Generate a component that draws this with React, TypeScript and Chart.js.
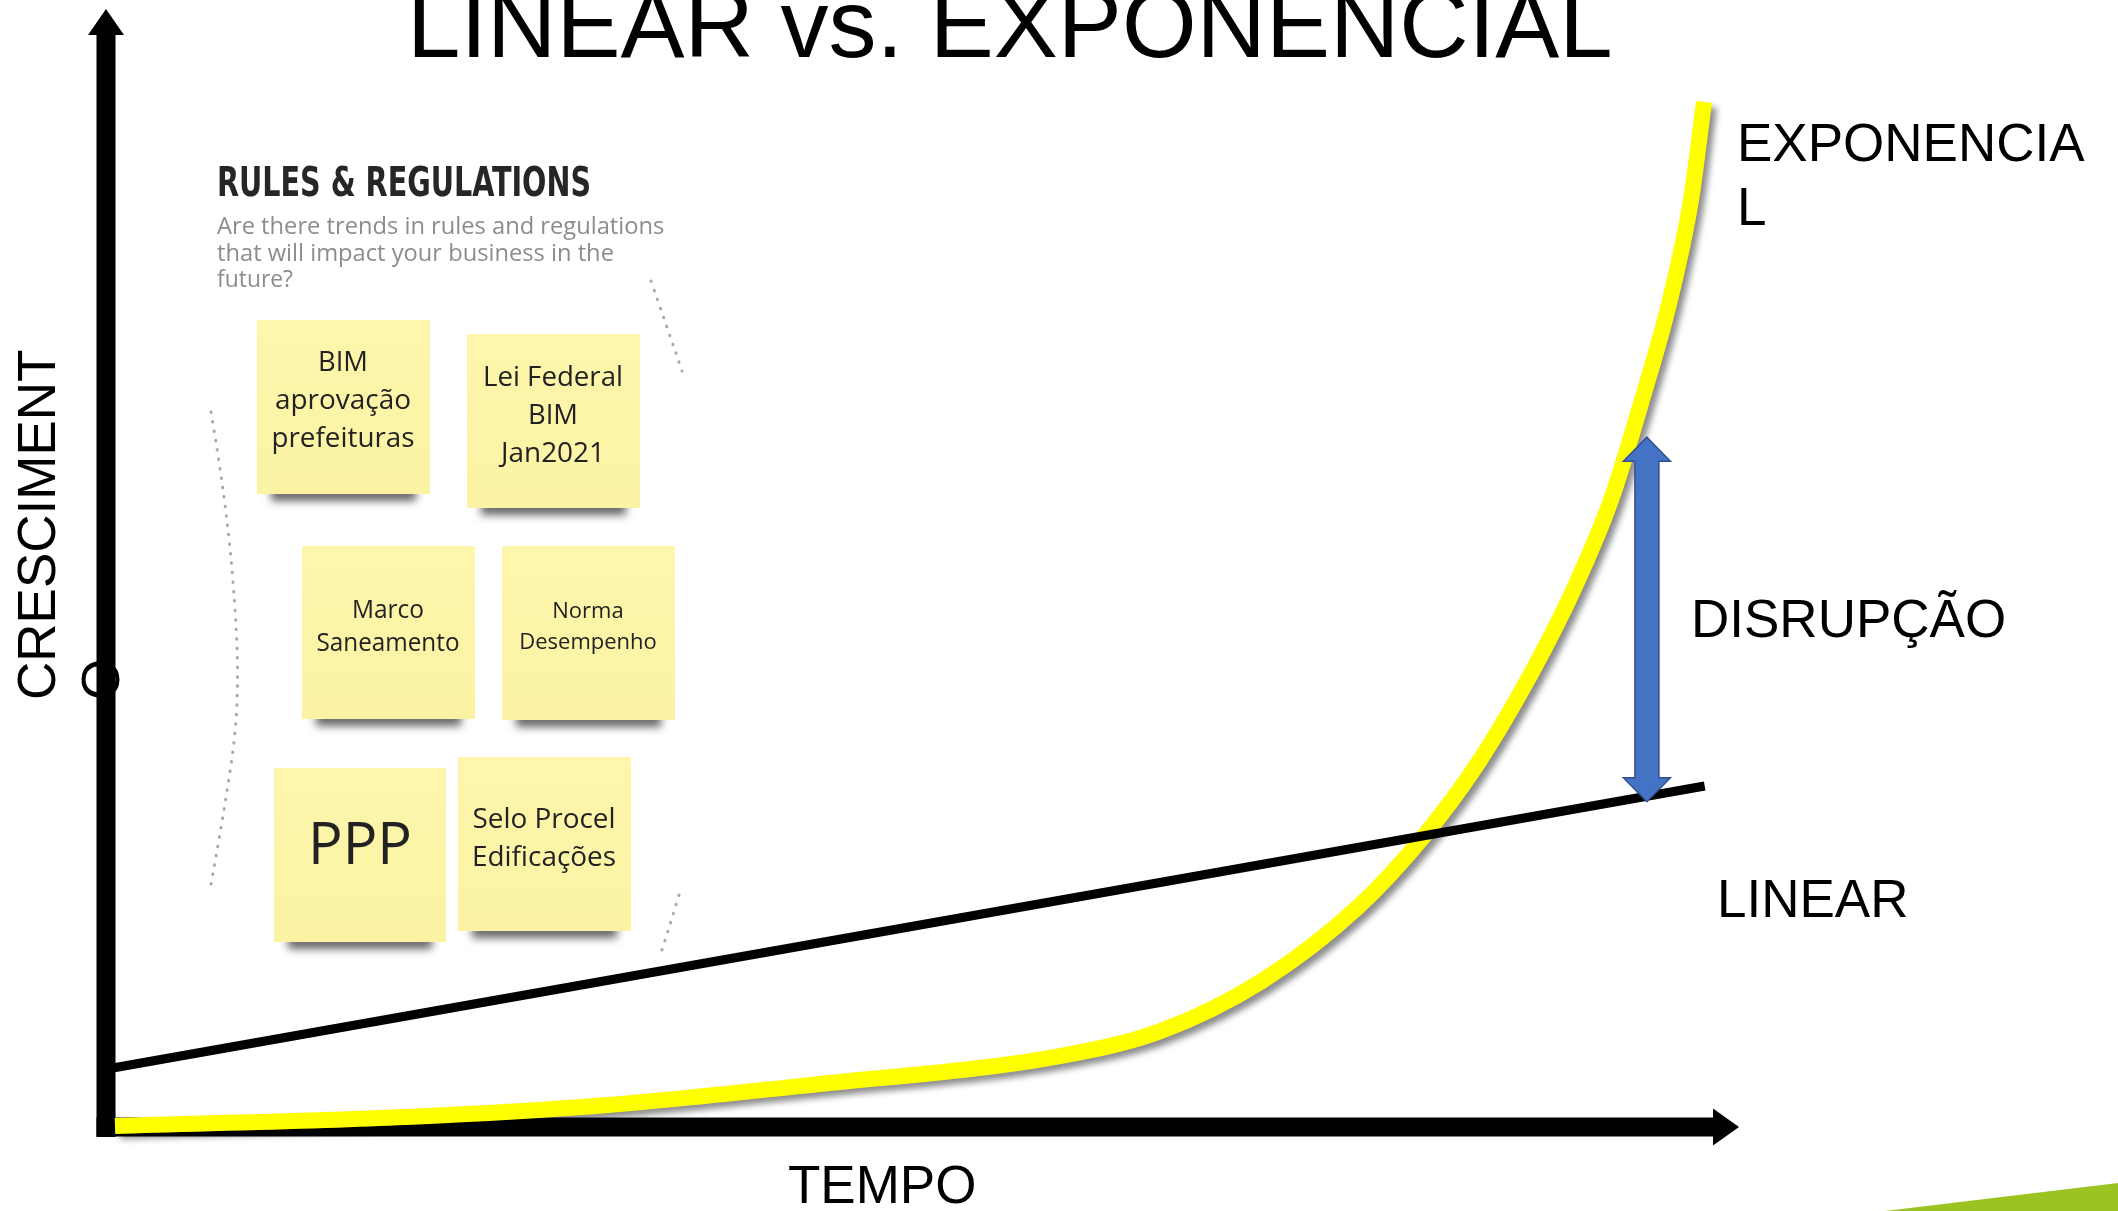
import React, { useEffect, useRef } from "react";
import { Chart, registerables } from "chart.js";

Chart.register(...registerables);

// ---- data (time units 0..100 on x, growth units 0..100 on y) ----
const timeLinear = [0.5, 97.9];
const growthLinear = [5.3, 30.5];

const timeExp = [0.55, 18.37, 30.74, 43.17, 58.42, 64.6, 70.79, 76.61, 80.71, 84.02, 87.32, 89.83, 92.16, 94.06, 95.77, 97.06, 97.86];
const growthExp = [0.09, 0.89, 1.97, 3.76, 6.35, 8.59, 13.06, 19.59, 26.03, 32.56, 40.7, 47.94, 56.08, 65.03, 73.97, 82.92, 91.68];

// disruption arrow: x position and from/to growth values
const disruptionX = [94.36];
const disruptionRange = [29.1, 61.7];

// ---- texts ----
const titleText = "LINEAR vs. EXPONENCIAL";
const xAxisLabel = "TEMPO";
const yAxisLabelLines = ["CRESCIMENT", "O"];
const expLabelLines = ["EXPONENCIA", "L"];
const disruptionLabel = "DISRUPÇÃO";
const linearLabel = "LINEAR";
const boardTitle = "RULES & REGULATIONS";
const boardSubtitle = [
  "Are there trends in rules and regulations",
  "that will impact your business in the",
  "future?",
];
const noteLabels = [
  ["BIM", "aprovação", "prefeituras"],
  ["Lei Federal", "BIM", "Jan2021"],
  ["Marco", "Saneamento"],
  ["Norma", "Desempenho"],
  ["PPP"],
  ["Selo Procel", "Edificações"],
];

// ---- layout (pixels) ----
const W = 2118;
const H = 1211;
const noteBoxes = [
  { x: 257, y: 320, w: 173, h: 174, cx: 343, ly: [363, 401, 439], size: 28, mw: [50, 136, 143] },
  { x: 467, y: 334, w: 173, h: 174, cx: 553, ly: [378, 416, 454], size: 28, mw: [140, 50, 104] },
  { x: 302, y: 546, w: 173, h: 173, cx: 388, ly: [611, 644], size: 25, mw: [72, 143] },
  { x: 502, y: 546, w: 173, h: 174, cx: 588, ly: [612, 643], size: 22, mw: [74, 139] },
  { x: 274, y: 768, w: 172, h: 174, cx: 360, ly: [847], size: 58, mw: [104] },
  { x: 458, y: 757, w: 173, h: 174, cx: 544, ly: [820, 858], size: 28, mw: [143, 144] },
];

const SANS = '"Liberation Sans", Arial, sans-serif';

function dottedPath(ctx: CanvasRenderingContext2D, pts: number[][]) {
  ctx.save();
  ctx.strokeStyle = "#a9a9a9";
  ctx.lineWidth = 3;
  ctx.lineCap = "round";
  ctx.setLineDash([0.5, 9]);
  ctx.beginPath();
  ctx.moveTo(pts[0][0], pts[0][1]);
  for (let i = 1; i < pts.length - 1; i++) {
    const mx = (pts[i][0] + pts[i + 1][0]) / 2;
    const my = (pts[i][1] + pts[i + 1][1]) / 2;
    ctx.quadraticCurveTo(pts[i][0], pts[i][1], mx, my);
  }
  const last = pts[pts.length - 1];
  ctx.lineTo(last[0], last[1]);
  ctx.stroke();
  ctx.restore();
}

const decor = {
  id: "decor",
  beforeDatasetsDraw(chart: any) {
    const ctx: CanvasRenderingContext2D = chart.ctx;
    const a = chart.chartArea;
    ctx.save();

    // green corner wedge
    ctx.fillStyle = "#9bc422";
    ctx.beginPath();
    ctx.moveTo(1885, H);
    ctx.lineTo(W, 1183);
    ctx.lineTo(W, H);
    ctx.closePath();
    ctx.fill();

    // title
    ctx.fillStyle = "#000";
    ctx.textBaseline = "alphabetic";
    ctx.textAlign = "left";
    ctx.font = `96px ${SANS}`;
    ctx.fillText(titleText, 407, 57);

    // board header
    ctx.fillStyle = "#262626";
    ctx.font = 'bold 41px "DejaVu Sans Condensed", "Liberation Sans Narrow", sans-serif';
    ctx.fillText(boardTitle, 217, 196, 374);
    ctx.fillStyle = "#8c8c8c";
    ctx.font = '23.7px "Open Sans", sans-serif';
    const subW = [449, 402, 76];
    boardSubtitle.forEach((s, i) => ctx.fillText(s, 217, 234 + i * 26.5, subW[i]));

    // dotted brackets
    dottedPath(ctx, [[211, 412], [226, 500], [238, 640], [237, 727], [223, 817], [210, 890]]);
    dottedPath(ctx, [[651, 281], [668, 330], [682, 371]]);
    dottedPath(ctx, [[679, 895], [670, 925], [660, 956]]);

    // sticky notes
    noteBoxes.forEach((b, i) => {
      ctx.save();
      ctx.shadowColor = "rgba(0,0,0,0.6)";
      ctx.shadowBlur = 9;
      ctx.shadowOffsetY = 7;
      ctx.fillStyle = "#777";
      ctx.fillRect(b.x + 14, b.y + b.h - 14, b.w - 28, 14);
      ctx.restore();
      const g = ctx.createLinearGradient(0, b.y, 0, b.y + b.h);
      g.addColorStop(0, "#fdf6ac");
      g.addColorStop(1, "#fbf3a3");
      ctx.fillStyle = g;
      ctx.fillRect(b.x, b.y, b.w, b.h);
      ctx.fillStyle = "#222";
      ctx.textAlign = "center";
      ctx.textBaseline = "middle";
      ctx.font = `${b.size}px "Open Sans", sans-serif`;
      noteLabels[i].forEach((t, j) => ctx.fillText(t, b.cx, b.ly[j], b.mw[j]));
    });

    // axis labels
    ctx.fillStyle = "#000";
    ctx.textAlign = "left";
    ctx.textBaseline = "alphabetic";
    ctx.font = `53px ${SANS}`;
    ctx.fillText(xAxisLabel, 788, 1203);
    ctx.save();
    ctx.translate(55, 700);
    ctx.rotate(-Math.PI / 2);
    yAxisLabelLines.forEach((t, i) => ctx.fillText(t, 0, i * 64));
    ctx.restore();

    // axes with arrow heads
    const ox = a.left;
    const oy = a.bottom;
    ctx.fillStyle = "#000";
    ctx.fillRect(ox - 9.5, a.top + 26, 19, oy + 10 - (a.top + 26));
    ctx.beginPath();
    ctx.moveTo(ox - 18, a.top + 26);
    ctx.lineTo(ox + 18, a.top + 26);
    ctx.lineTo(ox, a.top);
    ctx.closePath();
    ctx.fill();
    ctx.fillRect(ox - 9.5, oy - 9.5, a.right - 26 - (ox - 9.5), 19);
    ctx.beginPath();
    ctx.moveTo(a.right - 26, oy - 18.5);
    ctx.lineTo(a.right - 26, oy + 18.5);
    ctx.lineTo(a.right, oy);
    ctx.closePath();
    ctx.fill();

    ctx.restore();
  },
  beforeDatasetDraw(chart: any, args: any) {
    if (args.index === 1) {
      const ctx = chart.ctx;
      ctx.save();
      ctx.shadowColor = "rgba(0,0,0,0.45)";
      ctx.shadowBlur = 6;
      ctx.shadowOffsetX = 5;
      ctx.shadowOffsetY = 5;
    }
  },
  afterDatasetDraw(chart: any, args: any) {
    if (args.index === 1) chart.ctx.restore();
  },
  afterDatasetsDraw(chart: any) {
    const ctx: CanvasRenderingContext2D = chart.ctx;
    const xs = chart.scales.x;
    const ys = chart.scales.y;
    ctx.save();
    // disruption double arrow
    const cx = xs.getPixelForValue(disruptionX[0]);
    const yb = ys.getPixelForValue(disruptionRange[0]);
    const yt = ys.getPixelForValue(disruptionRange[1]);
    const sw = 12;
    const hw = 23.5;
    const hl = 24;
    ctx.beginPath();
    ctx.moveTo(cx, yt);
    ctx.lineTo(cx + hw, yt + hl);
    ctx.lineTo(cx + sw, yt + hl);
    ctx.lineTo(cx + sw, yb - hl);
    ctx.lineTo(cx + hw, yb - hl);
    ctx.lineTo(cx, yb);
    ctx.lineTo(cx - hw, yb - hl);
    ctx.lineTo(cx - sw, yb - hl);
    ctx.lineTo(cx - sw, yt + hl);
    ctx.lineTo(cx - hw, yt + hl);
    ctx.closePath();
    ctx.fillStyle = "#4472c4";
    ctx.fill();
    ctx.strokeStyle = "#2f528f";
    ctx.lineWidth = 1.5;
    ctx.stroke();

    // series labels
    ctx.fillStyle = "#000";
    ctx.textAlign = "left";
    ctx.textBaseline = "alphabetic";
    ctx.font = `53px ${SANS}`;
    expLabelLines.forEach((t, i) => ctx.fillText(t, 1737, 161 + i * 64));
    ctx.fillText(disruptionLabel, 1691, 637);
    ctx.fillText(linearLabel, 1717, 917);
    ctx.restore();
  },
};

export default function App() {
  const ref = useRef<HTMLCanvasElement | null>(null);
  useEffect(() => {
    document.body.style.margin = "0";
    document.body.style.overflow = "hidden";
    const canvas = ref.current;
    if (!canvas) return;
    const chart = new Chart(canvas, {
      type: "scatter",
      data: {
        datasets: [
          {
            label: "Linear",
            data: timeLinear.map((t, i) => ({ x: t, y: growthLinear[i] })),
            showLine: true,
            borderColor: "#000",
            borderWidth: 9,
            pointRadius: 0,
            borderCapStyle: "butt",
            clip: false,
          },
          {
            label: "Exponencial",
            data: timeExp.map((t, i) => ({ x: t, y: growthExp[i] })),
            showLine: true,
            borderColor: "#ffff00",
            borderWidth: 16,
            pointRadius: 0,
            cubicInterpolationMode: "monotone",
            borderCapStyle: "butt",
            clip: false,
          },
        ],
      },
      options: {
        responsive: false,
        animation: false,
        devicePixelRatio: 1,
        events: [],
        layout: { padding: { left: 106, top: 9, right: 379, bottom: 84 } },
        scales: {
          x: { type: "linear", min: 0, max: 100, display: false },
          y: { type: "linear", min: 0, max: 100, display: false },
        },
        plugins: { legend: { display: false }, tooltip: { enabled: false }, title: { display: false } },
      } as any,
      plugins: [decor as any],
    });
    return () => chart.destroy();
  }, []);
  return (
    <div style={{ width: W, height: H, position: "relative", background: "#fff" }}>
      <canvas ref={ref} width={W} height={H} style={{ display: "block", width: W, height: H }} />
    </div>
  );
}
